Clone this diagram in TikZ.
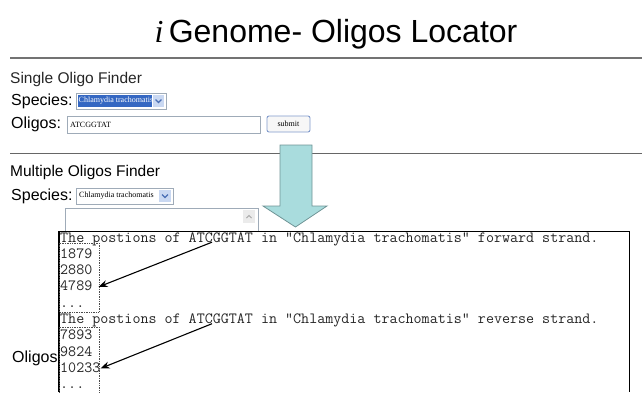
\documentclass[tikz,border=0pt]{standalone}
\usepackage{fontspec}
\setmainfont{Liberation Sans}
\newfontfamily\seriffont{Liberation Serif}
\usetikzlibrary{arrows.meta,positioning}
\definecolor{selblue}{HTML}{3467C2}
\definecolor{arrowcyan}{HTML}{A9DCDD}
\definecolor{arrowedge}{HTML}{6F9496}
\definecolor{fieldgray}{HTML}{9FABB8}
\definecolor{btnblue}{HTML}{C9D8F2}
\definecolor{chevblue}{HTML}{4A6FB5}

\begin{document}
\begin{tikzpicture}[x=1pt,y=-1pt,
    label/.style={anchor=west,inner sep=0pt,font=\fontsize{15.5}{18}\selectfont,text=black!85},
    formlabel/.style={label,font=\fontsize{16}{18}\selectfont,text=black},
    small/.style={anchor=west,inner sep=0pt,font=\seriffont\fontsize{8}{9}\selectfont},
    outline/.style={anchor=west,inner sep=0pt,text height=9pt,text depth=1pt,
      font=\ttfamily\fontsize{15.6}{17}\selectfont,text=black!85},
    field/.style={draw=fieldgray,fill=white,line width=0.8pt},
    numbox/.style={draw=black!70,densely dotted,line width=0.7pt},
    pointer/.style={-{Stealth[length=9pt,width=7pt]},line width=1.1pt}]
\useasboundingbox (0,0) rectangle (642,392);

% title
\node[inner sep=0pt,font=\fontsize{32}{36}\selectfont] (title) at (336,34)
  {{\seriffont\itshape i}\,Genome- Oligos Locator};
\draw[black!55, line width=1.6pt] (10,58) -- (642,58);

% single oligo finder
\node[label] (single) at (10,79) {Single Oligo Finder};
\node[formlabel] (sp1) at (11,101) {Species:};
\draw[field] (76,93) rectangle (166,109);
\fill[selblue] (78,95) rectangle (152,107);
\node[small,text=white] (sel1) at (78.5,101) {Chlamydia trachomatis};
\fill[btnblue] (153,95) rectangle (164,107);
\draw[chevblue, line width=1.2pt] (155.5,99.5) -- (158.5,102.5) -- (161.5,99.5);
\node[formlabel] (ol1) at (11,124) {Oligos:};
\draw[field] (67,116) rectangle (260,133);
\node[small] (seq) at (70,124.5) {ATCGGTAT};
\draw[chevblue!70, fill=black!3, line width=0.9pt, rounded corners=2pt] (267,116) rectangle (310,132);
\node[inner sep=0pt,font=\seriffont\fontsize{8}{9}\selectfont] (submit) at (288.5,124) {submit};
\draw[black!60, line width=1pt] (10,153) -- (642,153);

% multiple oligos finder
\node[formlabel,font=\fontsize{15.5}{18}\selectfont] (multi) at (10,172) {Multiple Oligos Finder};
\node[formlabel] (sp2) at (11,196) {Species:};
\draw[field] (76,188) rectangle (173,204);
\node[small] (sel2) at (79,196) {Chlamydia trachomatis};
\fill[btnblue] (159,190) rectangle (171,202);
\draw[chevblue, line width=1.2pt] (162,194.5) -- (165,197.5) -- (168,194.5);
\draw[field] (65,208) rectangle (258,233);
\fill[black!8] (243,210) rectangle (255,223);
\draw[black!35, line width=0.8pt] (246.5,218) -- (249,215.5) -- (251.5,218);

% big arrow
\draw[fill=arrowcyan, draw=arrowedge, line width=0.8pt]
  (280,145) -- (312,145) -- (312,206) -- (327,206) -- (295.5,227)
  -- (263,206) -- (280,206) -- cycle;

% output
\fill[white] (59,231) rectangle (630,392);
\draw[black, line width=1pt] (59,392) -- (59,231) -- (629,231) -- (629,392);
\draw[black, line width=2pt] (59,231) -- (59,392);
\node[outline] (fwd) at (60,238) {The postions of ATCGGTAT in "Chlamydia trachomatis" forward strand.};
\node[outline] (f1) at (60,254.3) {1879};
\node[outline] (f2) at (60,270.6) {2880};
\node[outline] (f3) at (60,286.9) {4789};
\node[outline] (fdots) at (60,303.2) {...};
\node[outline] (rev) at (60,319.5) {The postions of ATCGGTAT in "Chlamydia trachomatis" reverse strand.};
\node[outline] (r1) at (60,335.8) {7893};
\node[outline] (r2) at (60,352.1) {9824};
\node[outline] (r3) at (60,368.4) {10233};
\node[outline] (rdots) at (60,384.7) {...};
\draw[numbox] (59.5,243) rectangle (99,312);
\draw[numbox] (59.5,327) rectangle (99,396);
\draw[pointer] ([xshift=152pt,yshift=1pt]fwd.south west) -- ([xshift=6pt]f3.east);
\draw[pointer] ([xshift=152pt,yshift=1pt]rev.south west) -- ([xshift=0pt]r3.east);

\node[formlabel] (ol2) at (12,358) {Oligos};
\end{tikzpicture}
\end{document}
